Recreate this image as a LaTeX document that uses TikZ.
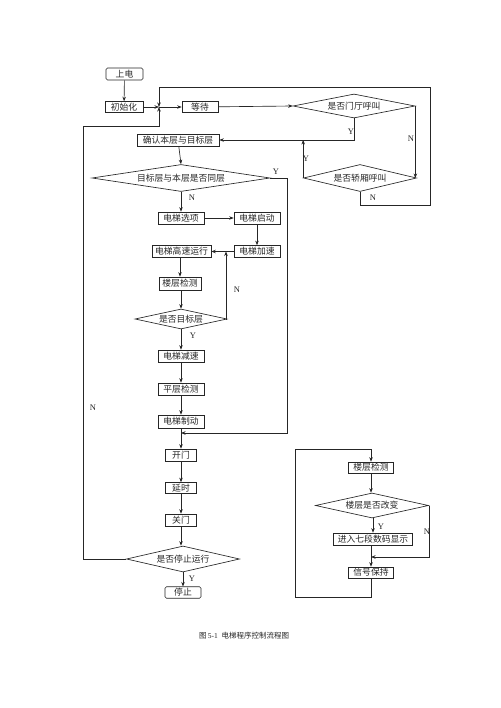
\documentclass[tikz,border=0pt]{standalone}
\usepackage{fontspec}
\newfontfamily\cjk{Noto Sans CJK SC}
\newfontfamily\lat{Liberation Serif}
\usetikzlibrary{shapes.geometric,arrows.meta}
\begin{document}
\begin{tikzpicture}[x=1pt,y=-1pt,
  ln/.style={line width=0.65pt,draw=black!85},
  arr/.style={ln,-{Stealth[length=4.5pt,width=3.5pt]}},
  box/.style={ln,draw,minimum height=12pt,inner sep=0pt,text=black!85,font=\cjk\fontsize{8.8}{9}\selectfont},
  rbox/.style={box,rounded corners=1.5pt},
  dia/.style={ln,draw,shape=diamond,aspect=5,inner sep=0pt,text=black!85,font=\cjk\fontsize{8.8}{9}\selectfont},
  lab/.style={inner sep=0pt,text=black!85,font=\lat\fontsize{8.5}{9}\selectfont}]
\fill[white] (0,0) rectangle (500,708);
\useasboundingbox (0,0) rectangle (500,708);
% left column
\node[rbox,minimum width=37pt] (shang) at (124.5,74) {上电};
\node[box,minimum width=38pt,minimum height=11pt] (init) at (124,107) {初始化};
\coordinate (J) at (159,107);
\node[box,minimum width=36pt,minimum height=11pt] (wait) at (200,107) {等待};
\node[dia,minimum width=122pt,minimum height=24pt] (d1) at (354,106) {是否门厅呼叫};
\node[dia,minimum width=113pt,minimum height=27pt] (d2) at (360,178) {是否轿厢呼叫};
\node[box,minimum width=82pt] (confirm) at (178,140) {确认本层与目标层};
\node[dia,minimum width=178pt,minimum height=27pt,aspect=6.6] (d3) at (181,178) {目标层与本层是否同层};
\node[box,minimum width=46pt] (sel) at (181,218) {电梯选项};
\node[box,minimum width=46pt] (start) at (257,218) {电梯启动};
\node[box,minimum width=46pt] (acc) at (257,251.5) {电梯加速};
\node[box,minimum width=59pt] (high) at (181.5,251.5) {电梯高速运行};
\coordinate (J2) at (226,251.5);
\node[box,minimum width=42pt,minimum height=13pt] (floor) at (180,283.5) {楼层检测};
\node[dia,minimum width=92pt,minimum height=20pt] (d4) at (181,319) {是否目标层};
\node[box,minimum width=46pt] (dec) at (181,356) {电梯减速};
\node[box,minimum width=46pt] (lev) at (181,389) {平层检测};
\node[box,minimum width=46pt,minimum height=13pt] (brk) at (181,421.5) {电梯制动};
\coordinate (M1) at (181,433);
\node[box,minimum width=31pt] (open) at (181,455) {开门};
\node[box,minimum width=31pt,minimum height=11pt] (delay) at (181,488) {延时};
\node[box,minimum width=31pt] (close) at (181,520) {关门};
\node[dia,minimum width=113pt,minimum height=26pt] (d5) at (183,559) {是否停止运行};
\node[rbox,minimum width=36pt,minimum height=11.5pt] (stop) at (183,592.5) {停止};
% right group
\node[box,minimum width=45pt,minimum height=11pt] (rfloor) at (371,467.5) {楼层检测};
\node[dia,minimum width=113pt,minimum height=25pt] (d6) at (372,505.5) {楼层是否改变};
\node[box,minimum width=79pt] (show) at (373,539) {进入七段数码显示};
\coordinate (M2) at (371,557);
\node[box,minimum width=45pt,minimum height=11pt] (hold) at (371,572.5) {信号保持};
% corner coordinates
\coordinate (c1) at (430,205);
\coordinate (c2) at (159,87);
\coordinate (c3) at (287,178);
\coordinate (c4) at (83,126);
\coordinate (c5) at (d6.east |- M2);
\coordinate (c6) at (295,597);
\coordinate (c7) at (295,449);
% connectors
\draw[arr] (shang) -- (init);
\draw[arr] (init) -- (J);
\draw[arr] (J) -- (wait);
\draw[arr] (wait) -- (d1.west);
\draw[arr] (d1.east) -- (d1.east |- d2.east);
\draw[arr] (d1.south) |- (confirm.east);
\draw[arr] (d2.west) -- (d2.west |- confirm.east);
\draw[arr] (d2.south) |- (c1) |- (c2) -- (J);
\draw[arr] (confirm) -- (d3.north);
\draw[arr] (d3.south) -- (sel);
\draw[arr] (d3.east) -- (c3) |- (M1);
\draw[arr] (sel) -- (start);
\draw[arr] (start) -- (acc);
\draw[arr] (acc) -- (high);
\draw[arr] (high.south -| floor) -- (floor);
\draw[arr] (floor.south -| d4.north) -- (d4.north);
\draw[arr] (d4.east) -| (J2);
\draw[arr] (d4.south) -- (dec);
\draw[arr] (dec) -- (lev);
\draw[arr] (lev) -- (brk);
\draw[arr] (brk) -- (open);
\draw[arr] (open) -- (delay);
\draw[arr] (delay) -- (close);
\draw[arr] (close.south) -- (close.south |- d5.north);
\draw[arr] (d5.south -| stop) -- (stop);
\draw[arr] (d5.west) -| (c4) -| (J);
\draw[arr] (rfloor.south) -- (rfloor.south |- d6.north);
\draw[arr] (d6.south -| show) -- (show);
\draw[arr] (d6.east) -- (c5) -- (M2);
\draw[arr] (show.south -| hold) -- (hold);
\draw[arr] (hold.south) |- (c6) -- (c7) -| (rfloor.north);
% labels
\node[lab] (lN1) at (411,139) {N};
\node[lab] (lY1) at (351,132) {Y};
\node[lab] (lY2) at (306,159) {Y};
\node[lab] (lN2) at (373,198) {N};
\node[lab] (lY3) at (276,172) {Y};
\node[lab] (lN3) at (192,198) {N};
\node[lab] (lN4) at (237,290) {N};
\node[lab] (lY4) at (193,336) {Y};
\node[lab] (lN5) at (93,408) {N};
\node[lab] (lY5) at (192,579) {Y};
\node[lab] (lY6) at (381,527) {Y};
\node[lab] (lN6) at (427,532) {N};
\node[inner sep=0pt,text=black!85,font=\cjk\fontsize{7.5}{8}\selectfont] (cap) at (244,636) {图\,{\lat 5-1}\enspace 电梯程序控制流程图};
\end{tikzpicture}
\end{document}
